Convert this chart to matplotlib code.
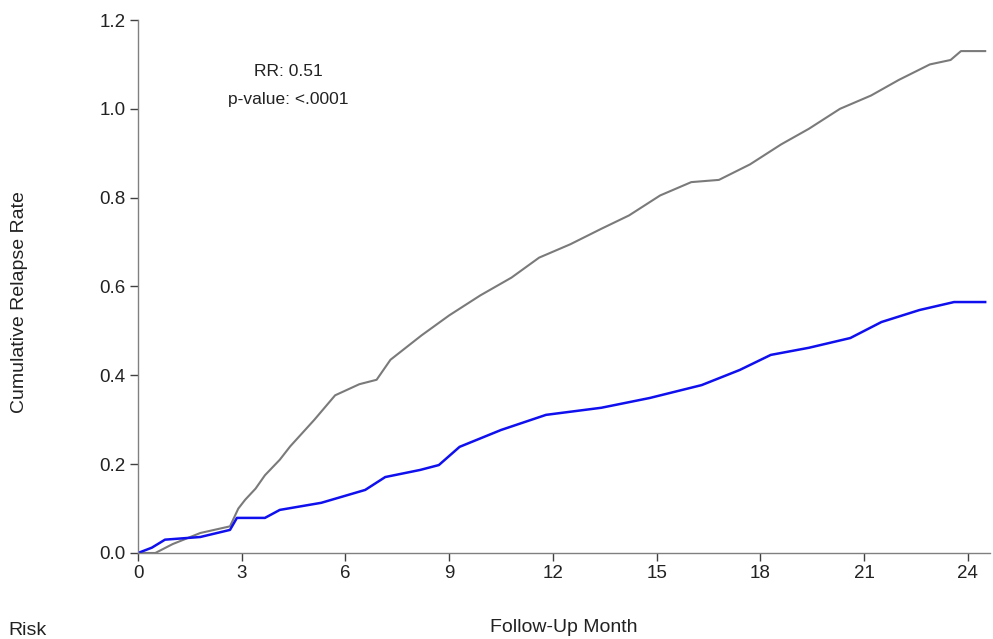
import numpy as np
import matplotlib.pyplot as plt

plt.rcParams['font.family'] = ['Liberation Sans', 'DejaVu Sans']

# Cumulative relapse rate (month, rate)
gray_month = [0, 0.5, 1.0, 1.8, 2.66, 2.9, 3.1, 3.4, 3.67, 4.1, 4.4, 5.1, 5.7, 6.4, 6.9,
              7.3, 8.2, 9.0, 9.9, 10.8, 11.6, 12.5, 13.4, 14.2, 15.1, 16.0, 16.8,
              17.7, 18.6, 19.4, 20.3, 21.2, 22.0, 22.9, 23.5, 23.8, 24.5]
gray_rate = [0, 0, 0.02, 0.045, 0.06, 0.1, 0.12, 0.145, 0.175, 0.21, 0.24, 0.30, 0.355,
             0.38, 0.39, 0.435, 0.49, 0.535, 0.58, 0.62, 0.665, 0.695, 0.73, 0.76,
             0.805, 0.835, 0.84, 0.875, 0.92, 0.955, 1.00, 1.03, 1.065, 1.10, 1.11,
             1.13, 1.13]

blue_month = [0, 0.4, 0.78, 1.8, 2.66, 2.86, 3.67, 4.1, 5.3, 6.57, 7.15, 8.16, 8.7,
              9.3, 10.5, 11.8, 13.4, 14.8, 16.3, 17.4, 18.3, 19.4, 20.6, 21.5, 22.6,
              23.6, 24.5]
blue_rate = [0, 0.012, 0.03, 0.036, 0.052, 0.079, 0.079, 0.097, 0.113, 0.142, 0.171,
             0.187, 0.198, 0.239, 0.277, 0.311, 0.327, 0.349, 0.378, 0.412, 0.446,
             0.462, 0.484, 0.52, 0.547, 0.565, 0.565]

x_ticks = [0, 3, 6, 9, 12, 15, 18, 21, 24]
y_ticks = [0.0, 0.2, 0.4, 0.6, 0.8, 1.0, 1.2]

fig = plt.figure(figsize=(9.93, 6.39), dpi=100)
ax = fig.add_axes([0.139, 0.1346, 0.858, 0.8341])

ax.plot(gray_month, gray_rate, color='#7a7a7a', lw=1.5)
ax.plot(blue_month, blue_rate, color='#1010ee', lw=1.8)

ax.set_xlim(0, 24.64)
ax.set_ylim(0, 1.2)
ax.set_xticks(x_ticks)
ax.set_yticks(y_ticks)
ax.set_yticklabels([f'{v:.1f}' for v in y_ticks])

for s in ['top', 'right']:
    ax.spines[s].set_visible(False)
for s in ['left', 'bottom']:
    ax.spines[s].set_color('#808080')
    ax.spines[s].set_linewidth(1.0)
ax.tick_params(direction='out', length=6, width=1, color='#404040',
               labelsize=13.5, labelcolor='#222222', pad=3)

ax.set_xlabel('Follow-Up Month', fontsize=14, color='#222222', labelpad=26)
fig.text(20 / 993, 1 - 302 / 639, 'Cumulative Relapse Rate', rotation=90,
         ha='center', va='center', fontsize=14, color='#222222')

ax.text(0.176, 0.904, 'RR: 0.51', transform=ax.transAxes, ha='center', va='center',
        fontsize=12.5, color='#222222')
ax.text(0.176, 0.85, 'p-value: <.0001', transform=ax.transAxes, ha='center', va='center',
        fontsize=12.5, color='#222222')

fig.text(8 / 993, 1 - 622 / 639, 'Risk', ha='left', va='top', fontsize=14, color='#222222')

fig.savefig('out.png', dpi=100, facecolor='white')
